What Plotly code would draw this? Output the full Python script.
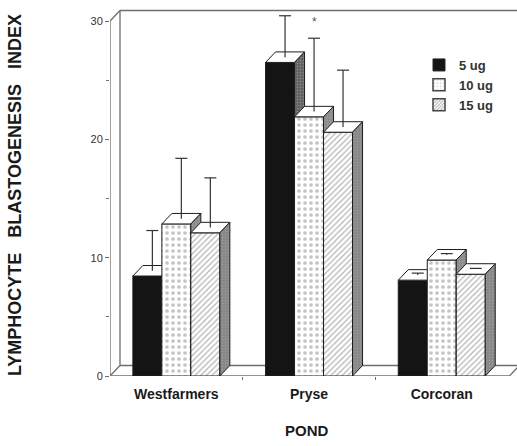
import plotly.graph_objects as go

# ---------------- data ----------------
categories = ["Westfarmers", "Pryse", "Corcoran"]
dose_labels = ["5 ug", "10 ug", "15 ug"]
mean_5 = [8.45, 26.5, 8.1]
mean_10 = [12.85, 21.9, 9.8]
mean_15 = [12.1, 20.6, 8.6]
err_5 = [3.4, 3.5, 0.15]
err_10 = [5.1, 6.2, 0.1]
err_15 = [4.2, 4.8, 0.05]
y_ticks = [0, 10, 20, 30]
y_minor = [5, 15, 25]
star_category = "Pryse"
star_dose = "10 ug"

means = [mean_5, mean_10, mean_15]
errs = [err_5, err_10, err_15]

# ---------------- geometry ----------------
W, H = 517, 446
ML, MR, MT, MB = 110, 0, 8, 70
pw, ph = W - ML - MR, H - MT - MB
px_per_x = 132.7
x0r = -0.5
x1r = x0r + pw / px_per_x
px_per_y = 355 / 30.0
y1r = ph / px_per_y
DX = 10 / px_per_x          # depth offset in data units
DY = 10.5 / px_per_y
BW = 0.2185                 # single bar width
CAP = 6 / px_per_x

front_fill = [
    dict(fillcolor="#141414"),
    dict(fillcolor="white", fillpattern=dict(shape=".", fgcolor="#8a8a8a", bgcolor="white", size=6, solidity=0.3)),
    dict(fillcolor="white", fillpattern=dict(shape="/", fgcolor="#6a6a6a", bgcolor="white", size=4, solidity=0.3)),
]
side_fill = ["#5e5e5e", "#8a8a8a", "#858585"]
line = dict(color="#1e1e1e", width=1)

fig = go.Figure()

for s in range(3):
    fx, fy, tx, ty, sx, sy = [], [], [], [], [], []
    for c in range(3):
        v = means[s][c]
        xa = c + (s - 1) * BW - BW / 2
        xb = xa + BW
        fx += [xa, xb, xb, xa, xa, None]
        fy += [0, 0, v, v, 0, None]
        tx += [xa, xb, xb + DX, xa + DX, xa, None]
        ty += [v, v, v + DY, v + DY, v, None]
        sx += [xb, xb + DX, xb + DX, xb, xb, None]
        sy += [0, DY, v + DY, v, 0, None]
    fig.add_trace(go.Scatter(x=fx, y=fy, mode="lines", fill="toself", line=line,
                             showlegend=False, hoverinfo="skip", **front_fill[s]))
    fig.add_trace(go.Scatter(x=tx, y=ty, mode="lines", fill="toself", fillcolor="white",
                             line=line, showlegend=False, hoverinfo="skip"))
    fig.add_trace(go.Scatter(x=sx, y=sy, mode="lines", fill="toself", line=line,
                             fillcolor=side_fill[s],
                             fillpattern=dict(shape=".", fgcolor="#b0b0b0", bgcolor=side_fill[s], size=3, solidity=0.3),
                             showlegend=False, hoverinfo="skip"))

# error bars (upper only, from mid-depth of top face)
ex, ey = [], []
for s in range(3):
    for c in range(3):
        v = means[s][c]
        xc = c + (s - 1) * BW + DX / 2
        yb = v + DY / 2
        yt = yb + errs[s][c]
        ex += [xc, xc, None, xc - CAP, xc + CAP, None]
        ey += [yb, yt, None, yt, yt, None]
fig.add_trace(go.Scatter(x=ex, y=ey, mode="lines", line=dict(color="#333", width=1.2),
                         showlegend=False, hoverinfo="skip"))

# asterisk
ci = categories.index(star_category)
si = dose_labels.index(star_dose)
fig.add_annotation(x=ci + (si - 1) * BW + DX / 2,
                   y=means[si][ci] + DY / 2 + errs[si][ci] + 1.4,
                   text="*", showarrow=False, font=dict(size=12, color="#555"))

# legend-only traces
leg_markers = [
    dict(color="#141414", line=dict(color="#222", width=1)),
    dict(color="white", line=dict(color="#444", width=1.5),
         pattern=dict(shape=".", fgcolor="#999", bgcolor="white", size=4, solidity=0.2)),
    dict(color="white", line=dict(color="#444", width=1.5),
         pattern=dict(shape="/", fgcolor="#555", bgcolor="white", size=3, solidity=0.4)),
]
for s in range(3):
    fig.add_trace(go.Bar(x=[None], y=[None], name=dose_labels[s], marker=leg_markers[s]))

# frame lines
fc = "#6e6e6e"
frame = [
    (x0r, 0, x0r, 30),                     # front y axis
    (x0r, 30, x0r + DX, 30 + DY),          # top diagonal
    (x0r + DX, DY, x0r + DX, 30 + DY),     # back wall left edge
    (x0r + DX, 30 + DY, x1r + 1, 30 + DY), # back wall top
    (x0r, 0, 2.51, 0),                     # floor front
    (x0r, 0, x0r + DX, DY),                # floor left diagonal
    (x0r + DX, DY, 2.51 + DX, DY),         # floor back
    (2.51, 0, 2.51 + DX, DY),              # floor right diagonal
]
for (a, b, c, d) in frame:
    fig.add_shape(type="line", x0=a, y0=b, x1=c, y1=d, xref="x", yref="y",
                  line=dict(color=fc, width=1.3), layer="below")

# titles
gap = "\u00a0" * 3
fig.add_annotation(xref="paper", yref="paper", x=(15 - ML) / pw, y=(MT + ph - 195) / ph,
                   xanchor="center", yanchor="middle",
                   text="LYMPHOCYTE" + gap + "BLASTOGENESIS" + gap + "INDEX",
                   textangle=-90, showarrow=False,
                   font=dict(family="Liberation Sans, Arial", size=18, color="#1a1a1a", weight="bold"))
fig.add_annotation(xref="paper", yref="paper", x=(307 - ML) / pw, y=(MT + ph - 430) / ph,
                   xanchor="center", yanchor="middle",
                   text="POND", showarrow=False,
                   font=dict(family="Liberation Sans, Arial", size=15, color="#1a1a1a", weight="bold"))

fig.update_layout(
    width=W, height=H,
    margin=dict(l=ML, r=MR, t=MT, b=MB),
    paper_bgcolor="white", plot_bgcolor="white",
    font=dict(family="Liberation Sans, Arial", color="#2a2a2a"),
    showlegend=True,
    legend=dict(x=(419 - ML) / pw, y=(MT + ph - 50) / ph, xanchor="left", yanchor="top",
                bgcolor="rgba(0,0,0,0)", font=dict(size=13, color="#333", weight="bold"),
                itemwidth=30, tracegroupgap=0),
    hovermode=False,
    xaxis=dict(range=[x0r, x1r], showgrid=False, zeroline=False, showline=False,
               tickvals=[0, 1, 2], ticktext=categories, ticks="",
               tickfont=dict(size=14, color="#1a1a1a", weight="bold"),
               ticklabelstandoff=8,
               minor=dict(tickvals=[0.5, 1.5], ticks="outside", ticklen=3, tickcolor=fc)),
    yaxis=dict(range=[0, y1r], showgrid=False, zeroline=False, showline=False,
               tickvals=y_ticks, ticks="outside", ticklen=4, tickcolor=fc,
               tickfont=dict(size=11, color="#333"),
               minor=dict(tickvals=y_minor, ticks="outside", ticklen=3, tickcolor=fc)),
)

fig.write_html("out.html", config={"displayModeBar": False},
               post_script="document.body.style.margin='0';document.body.style.overflow='hidden';")
